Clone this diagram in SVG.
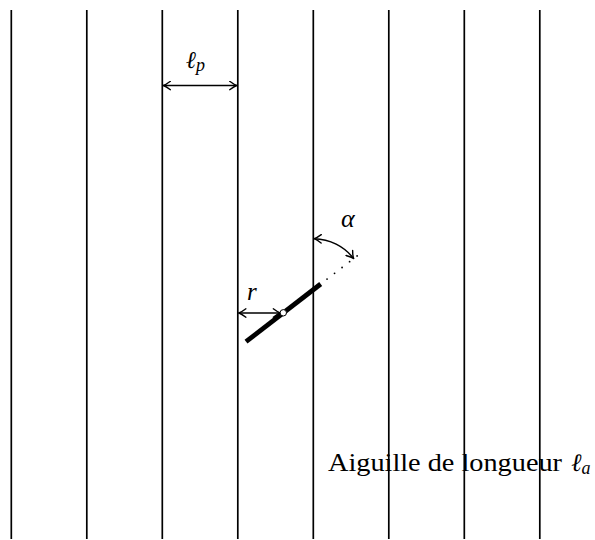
<svg xmlns="http://www.w3.org/2000/svg" width="595" height="540" viewBox="0 0 595 540">
<defs>
<style>
.plank{stroke:#000;stroke-width:1.7;fill:none}
.dim{stroke:#000;stroke-width:1.5;fill:none;marker-start:url(#tip);marker-end:url(#tip)}
.lbl{font-family:"Liberation Serif","DejaVu Serif",serif;fill:#000}
.it{font-style:italic}
</style>
<marker id="tip" viewBox="-8 -5 9 10" refX="0" refY="0" markerWidth="9" markerHeight="10" markerUnits="userSpaceOnUse" orient="auto-start-reverse">
<path d="M-7,-4.2 Q-2.5,-0.8 0,0 Q-2.5,0.8 -7,4.2" fill="none" stroke="#000" stroke-width="1.4" stroke-linecap="round"/>
</marker>
</defs>
<rect width="595" height="540" fill="#fff"/>
<g id="planks">
<line class="plank" x1="11.3" y1="10" x2="11.3" y2="539"/>
<line class="plank" x1="86.8" y1="10" x2="86.8" y2="539"/>
<line class="plank" x1="162.3" y1="10" x2="162.3" y2="539"/>
<line class="plank" x1="237.8" y1="10" x2="237.8" y2="539"/>
<line class="plank" x1="313.3" y1="10" x2="313.3" y2="539"/>
<line class="plank" x1="388.8" y1="10" x2="388.8" y2="539"/>
<line class="plank" x1="464.3" y1="10" x2="464.3" y2="539"/>
<line class="plank" x1="539.8" y1="10" x2="539.8" y2="539"/>
</g>
<g id="connectors">
<line class="dim" x1="163.4" y1="85.5" x2="236.7" y2="85.5"/>
<line class="dim" x1="238.9" y1="313" x2="280.3" y2="313"/>
<path class="dim" d="M314.2,238.7 A51,51 0 0 1 353.6,258.5"/>
<line x1="320.7" y1="284" x2="358" y2="255.2" stroke="#000" stroke-width="1.8" stroke-linecap="round" stroke-dasharray="0 9.5" stroke-dashoffset="-8"/>
</g>
<g id="needle">
<line x1="246" y1="341.7" x2="320.7" y2="284" stroke="#000" stroke-width="4.8"/>
<circle cx="283.3" cy="312.8" r="3.2" fill="#fff" stroke="#000" stroke-width="1"/>
</g>
<g id="labels">
<text class="lbl it" x="186" y="68" font-size="24">ℓ<tspan font-size="18" dy="3">p</tspan></text>
<text class="lbl it" x="247" y="300" font-size="25">r</text>
<text class="lbl it" x="341" y="227" font-size="26">α</text>
<text class="lbl" x="328" y="471" font-size="26" textLength="234" lengthAdjust="spacingAndGlyphs">Aiguille de longueur</text>
<text class="lbl it" x="571" y="471" font-size="25">ℓ<tspan font-size="18" dy="3">a</tspan></text>
</g>
</svg>
